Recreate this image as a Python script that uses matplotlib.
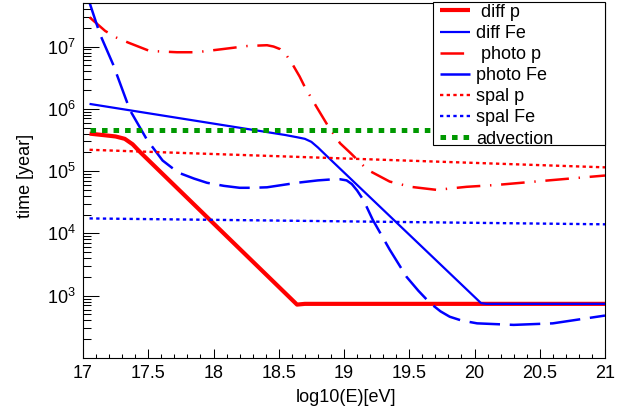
import numpy as np
import matplotlib
matplotlib.use("Agg")
import matplotlib.pyplot as plt
from matplotlib.lines import Line2D
from matplotlib.patches import Rectangle
from matplotlib.ticker import MultipleLocator, LogLocator, NullFormatter

plt.rcParams['font.family'] = ['Liberation Sans', 'DejaVu Sans']
plt.rcParams['mathtext.fontset'] = 'custom'
plt.rcParams['mathtext.rm'] = 'Liberation Sans'
plt.rcParams['mathtext.it'] = 'Liberation Sans:italic'
plt.rcParams['lines.scale_dashes'] = False

# ---------------- data ----------------
E_diff_p = [17.05, 17.15, 17.25, 17.32, 17.38, 17.44, 18.64, 18.70, 21.0]
t_diff_p = [4.0e5, 3.8e5, 3.6e5, 3.3e5, 2.7e5, 2.0e5, 7.2e2, 7.4e2, 7.4e2]

E_diff_Fe = [17.05, 18.55, 18.64, 18.70, 18.75, 18.80, 18.85, 20.05, 20.09, 21.0]
t_diff_Fe = [1.2e6, 3.8e5, 3.5e5, 3.3e5, 2.95e5, 2.4e5, 1.9e5, 7.6e2, 7.4e2, 7.4e2]

E_photo_p = [17.05, 17.17, 17.26, 17.35, 17.51, 17.72, 17.87, 18.07, 18.26, 18.41,
             18.46, 18.51, 18.56, 18.61, 18.66, 18.70, 18.79, 18.88, 18.97, 19.05,
             19.18, 19.35, 19.51, 19.71, 19.94, 20.17, 20.5, 21.0]
t_photo_p = [2.95e7, 1.78e7, 1.38e7, 1.15e7, 8.5e6, 8.1e6, 8.1e6, 9.1e6, 1.02e7, 1.05e7,
             1.0e7, 9.1e6, 7.2e6, 5.0e6, 3.3e6, 2.24e6, 1.07e6, 5.2e5, 2.8e5, 1.95e5,
             1.05e5, 6.8e4, 5.6e4, 5.0e4, 5.6e4, 6.0e4, 6.9e4, 8.5e4]

E_photo_Fe = [17.03, 17.13, 17.23, 17.36, 17.49, 17.61, 17.68, 17.74, 17.85, 17.95,
              18.08, 18.20, 18.30, 18.41, 18.53, 18.64, 18.80, 18.92, 18.97, 19.02,
              19.06, 19.10, 19.15, 19.22, 19.35, 19.48, 19.57, 19.66, 19.74, 19.81,
              19.90, 20.02, 20.30, 20.60, 21.0]
t_photo_Fe = [6.8e7, 1.58e7, 5.2e6, 9.5e5, 3.2e5, 1.48e5, 1.14e5, 9.3e4, 7.6e4, 6.5e4,
              5.8e4, 5.4e4, 5.4e4, 5.5e4, 6.0e4, 6.5e4, 7.1e4, 7.4e4, 7.4e4, 7.1e4,
              6.2e4, 4.9e4, 3.4e4, 1.66e4, 5.5e3, 2.0e3, 1.2e3, 7.6e2, 5.6e2, 4.6e2,
              4.0e2, 3.6e2, 3.4e2, 3.6e2, 4.8e2]

E_spal_p = [17.05, 21.0]
t_spal_p = [2.2e5, 1.15e5]

E_spal_Fe = [17.05, 21.0]
t_spal_Fe = [1.74e4, 1.4e4]

E_adv = [17.05, 21.0]
t_adv = [4.6e5, 4.6e5]

labels = [" diff p", "diff Fe", " photo p", "photo Fe", "spal p", "spal Fe", "advection"]

x_ticks = [17, 17.5, 18, 18.5, 19, 19.5, 20, 20.5, 21]
x_tick_labels = ["17", "17.5", "18", "18.5", "19", "19.5", "20", "20.5", "21"]
y_ticks = [1e3, 1e4, 1e5, 1e6, 1e7]
y_tick_labels = [r"$\mathdefault{10^{3}}$", r"$\mathdefault{10^{4}}$", r"$\mathdefault{10^{5}}$",
                 r"$\mathdefault{10^{6}}$", r"$\mathdefault{10^{7}}$"]

# ---------------- figure ----------------
W, H = 642, 419
fig = plt.figure(figsize=(W / 100, H / 100), dpi=100)
L, R, T, B = 83, 605, 3, 358
ax = fig.add_axes([L / W, 1 - B / H, (R - L) / W, (B - T) / H])
ax.set_yscale('log')
ax.set_xlim(17, 21)
ax.set_ylim(100, 5e7)

RED = '#ff0000'
BLUE = '#0000ff'
GREEN = '#009900'

styles = [
    dict(color=RED, lw=3.0, ls='-'),
    dict(color=BLUE, lw=1.6, ls='-'),
    dict(color=RED, lw=1.8, ls=(0, (17, 7, 1, 7))),
    dict(color=BLUE, lw=1.8, ls=(0, (22, 7))),
    dict(color=RED, lw=1.7, ls=(0, (2.4, 2.4))),
    dict(color=BLUE, lw=1.7, ls=(0, (2.4, 2.4))),
    dict(color=GREEN, lw=3.6, ls=(0, (4.0, 4.3))),
]
series = [(E_diff_p, t_diff_p), (E_diff_Fe, t_diff_Fe), (E_photo_p, t_photo_p),
          (E_photo_Fe, t_photo_Fe), (E_spal_p, t_spal_p), (E_spal_Fe, t_spal_Fe),
          (E_adv, t_adv)]
for (ex, ty), st in zip(series, styles):
    ax.plot(ex, ty, solid_capstyle='butt', dash_capstyle='butt', **st)

ax.set_xticks(x_ticks)
ax.set_xticklabels(x_tick_labels)
ax.xaxis.set_minor_locator(MultipleLocator(0.1))
ax.set_yticks(y_ticks)
ax.set_yticklabels(y_tick_labels)
ax.yaxis.set_minor_locator(LogLocator(base=10, subs=np.arange(2, 10), numticks=20))
ax.yaxis.set_minor_formatter(NullFormatter())

ax.tick_params(axis='both', which='both', direction='in', top=False, right=False,
               width=0.75, labelsize=13)
ax.tick_params(axis='x', which='major', length=6.5, pad=5)
ax.tick_params(axis='x', which='minor', length=3.2)
ax.tick_params(axis='y', which='major', length=11.5, pad=5)
ax.tick_params(axis='y', which='minor', length=5.8)
for sp in ax.spines.values():
    sp.set_linewidth(0.8)

fig.text(346 / W, 1 - 397 / H, "log10(E)[eV]", ha='center', va='center', fontsize=13)
fig.text(25 / W, 1 - 176 / H, "time [year]", ha='center', va='center', rotation=90, fontsize=13)

# legend box
fig.add_artist(Rectangle((433 / W, 1 - 145 / H), (605 - 433) / W, (145 - 2) / H,
                         transform=fig.transFigure, facecolor='white', edgecolor='black',
                         lw=0.8, zorder=10))
handles = [Line2D([], [], solid_capstyle='butt', dash_capstyle='butt', **st) for st in styles]
leg = fig.legend(handles, labels, loc='upper left', bbox_to_anchor=(440 / W, 1 - 3.7 / H),
                 bbox_transform=fig.transFigure, frameon=False, borderpad=0,
                 borderaxespad=0, fontsize=13, handlelength=1.66, handletextpad=0.33,
                 labelspacing=0.23)
leg.set_zorder(11)

fig.savefig("out.png", dpi=100)
